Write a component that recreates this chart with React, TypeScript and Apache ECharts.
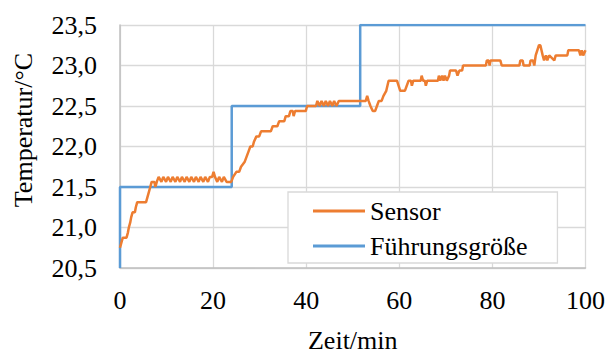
import React, { useEffect, useRef } from "react";
import * as echarts from "echarts";

const xTicks = [0, 20, 40, 60, 80, 100];
const yTicks = [20.5, 21.0, 21.5, 22.0, 22.5, 23.0, 23.5];

const setpointTime = [0, 0, 24, 24, 51.6, 51.6, 100];
const setpointTemp = [20.5, 21.5, 21.5, 22.5, 22.5, 23.5, 23.5];

const sensorTime = [
  0.0, 0.3, 0.6, 1.4, 1.7, 1.9, 2.2, 2.4, 2.7, 3.2, 3.4, 3.7, 5.6, 5.9, 6.2, 6.5, 6.8, 7.4, 7.6, 7.9,
  8.3, 8.9, 9.3, 9.9, 10.3, 10.9, 11.3, 11.9, 12.3, 12.9, 13.3, 13.9, 14.3, 14.9, 15.3, 15.9, 16.3, 16.9,
  17.3, 17.9, 18.3, 18.9, 19.3, 19.8, 20.1, 20.4, 20.9, 21.3, 21.9, 22.3, 22.9, 23.5, 23.9, 24.3, 25.0,
  25.6, 26.0, 26.8, 27.2, 27.6, 28.0, 28.5, 28.8, 29.3, 29.9, 30.3, 32.4, 32.8, 33.8, 34.2, 35.3, 35.6,
  36.3, 36.6, 37.1, 37.3, 37.6, 39.9, 40.2, 42.1, 42.4, 42.9, 43.3, 43.8, 44.2, 44.7, 45.1, 45.6, 46.0,
  46.5, 47.0, 52.8, 53.1, 53.4, 53.8, 54.3, 54.8, 55.2, 55.6, 56.2, 56.6, 57.2, 57.7, 59.5, 60.2, 61.2,
  61.6, 62.0, 62.5, 62.7, 63.0, 64.6, 64.8, 65.1, 65.5, 65.7, 66.0, 68.3, 68.5, 68.8, 69.2, 69.5, 69.8,
  70.2, 70.7, 70.9, 72.2, 72.5, 72.9, 73.5, 73.7, 78.6, 78.8, 79.2, 79.4, 79.6, 81.7, 82.0, 85.8, 86.0,
  86.5, 86.7, 88.0, 88.2, 88.7, 89.0, 89.3, 90.0, 90.3, 90.8, 91.1, 91.5, 91.8, 92.2, 93.3, 93.6, 96.1,
  96.3, 98.6, 98.9, 99.2, 99.5, 100.0,
];
const sensorTemp = [
  20.75, 20.8125, 20.875, 20.875, 20.9375, 21.0, 21.0625, 21.125, 21.1875, 21.1875, 21.25, 21.3125,
  21.3125, 21.375, 21.4375, 21.5, 21.5625, 21.5625, 21.5, 21.5625,
  21.625, 21.5625, 21.625, 21.5625, 21.625, 21.5625, 21.625, 21.5625, 21.625, 21.5625, 21.625, 21.5625,
  21.625, 21.5625, 21.625, 21.5625, 21.625, 21.5625, 21.625, 21.5625, 21.625, 21.5625, 21.625, 21.625,
  21.6875, 21.625, 21.5625, 21.625, 21.5625, 21.625, 21.5625, 21.5625, 21.5625, 21.625, 21.6875,
  21.6875, 21.75, 21.8125, 21.875, 21.9375, 22.0, 22.0, 22.0625, 22.125, 22.125, 22.1875, 22.1875, 22.25,
  22.25, 22.3125, 22.3125, 22.375, 22.375, 22.4375, 22.4375, 22.375, 22.4375, 22.4375, 22.5, 22.5,
  22.5625, 22.5, 22.5625, 22.5, 22.5625, 22.5, 22.5625, 22.5, 22.5625, 22.5, 22.5625, 22.5625, 22.625,
  22.5625, 22.5, 22.4375, 22.4375, 22.5, 22.5625, 22.5625, 22.625, 22.6875, 22.8125, 22.8125, 22.6875,
  22.6875, 22.75, 22.8125, 22.8125, 22.75, 22.8125, 22.8125, 22.875, 22.8125, 22.8125, 22.75, 22.8125,
  22.8125, 22.875, 22.8125, 22.875, 22.8125, 22.875, 22.8125, 22.875, 22.9375, 22.9375, 22.875, 22.9375,
  22.9375, 23.0, 23.0, 23.0625, 23.0625, 23.0, 23.0625, 23.0625, 23.0, 23.0, 23.0625, 23.0625, 23.0, 23.0,
  23.0625, 23.0625, 23.0, 23.125, 23.25, 23.25, 23.125, 23.0625, 23.125, 23.0625, 23.125, 23.0625,
  23.125, 23.125, 23.1875, 23.1875, 23.125, 23.1875, 23.125, 23.1875,
];

const FONT = "Times New Roman";
const SIZE = 26;
const fmt = (v: number) => v.toFixed(1).replace(".", ",");

export default function App() {
  const ref = useRef<HTMLDivElement>(null);
  useEffect(() => {
    document.body.style.margin = "0";
    if (!ref.current) return;
    const chart = echarts.init(ref.current, undefined, { renderer: "svg" });
    const sensor = sensorTime.map((t, i) => [t, sensorTemp[i]]);
    const setpoint = setpointTime.map((t, i) => [t, setpointTemp[i]]);
    chart.setOption({
      animation: false,
      backgroundColor: "#ffffff",
      grid: { left: 120, right: 21, top: 25, bottom: 79 },
      xAxis: {
        type: "value",
        min: xTicks[0],
        max: xTicks[xTicks.length - 1],
        interval: 20,
        name: "Zeit/min",
        nameLocation: "middle",
        nameGap: 59,
        nameTextStyle: { fontFamily: FONT, fontSize: SIZE, color: "#000" },
        axisLine: { show: true, lineStyle: { color: "#bfbfbf", width: 1.5 } },
        axisTick: { show: false },
        axisLabel: { fontFamily: FONT, fontSize: SIZE, color: "#000", margin: 19 },
        splitLine: { show: true, lineStyle: { color: "#d9d9d9", width: 1.3 } },
      },
      yAxis: {
        type: "value",
        min: yTicks[0],
        max: yTicks[yTicks.length - 1],
        interval: 0.5,
        axisLine: { show: true, lineStyle: { color: "#bfbfbf", width: 1.5 } },
        axisTick: { show: false },
        axisLabel: { fontFamily: FONT, fontSize: SIZE, color: "#000", margin: 23, formatter: fmt },
        splitLine: { show: true, lineStyle: { color: "#d9d9d9", width: 1.3 } },
      },
      legend: {
        orient: "vertical",
        left: 288,
        top: 192,
        padding: [6, 30, 4, 25],
        itemGap: 9,
        itemWidth: 52,
        itemHeight: 3,
        icon: "rect",
        backgroundColor: "#ffffff",
        borderColor: "#d9d9d9",
        borderWidth: 1.3,
        borderRadius: 0,
        textStyle: { fontFamily: FONT, fontSize: SIZE, color: "#000", lineHeight: SIZE },
        data: ["Sensor", "Führungsgröße"],
      },
      graphic: [
        {
          type: "text",
          x: 23,
          y: 130,
          rotation: Math.PI / 2,
          style: {
            text: "Temperatur/°C",
            fontFamily: FONT,
            fontSize: SIZE,
            fill: "#000",
            align: "center",
            verticalAlign: "middle",
          },
        },
      ],
      series: [
        {
          name: "Führungsgröße",
          type: "line",
          data: setpoint,
          symbol: "none",
          lineStyle: { color: "#5b9bd5", width: 2.5 },
          itemStyle: { color: "#5b9bd5" },
          z: 2,
        },
        {
          name: "Sensor",
          type: "line",
          data: sensor,
          symbol: "none",
          lineStyle: { color: "#ed7d31", width: 2.5 },
          itemStyle: { color: "#ed7d31" },
          z: 3,
        },
      ],
    });
    return () => chart.dispose();
  }, []);
  return (
    <div className="chart-root">
      <style>{`.chart-root svg text { font-family: "Liberation Serif", "Times New Roman", serif !important; }`}</style>
      <div ref={ref} style={{ width: 608, height: 358 }} />
    </div>
  );
}
